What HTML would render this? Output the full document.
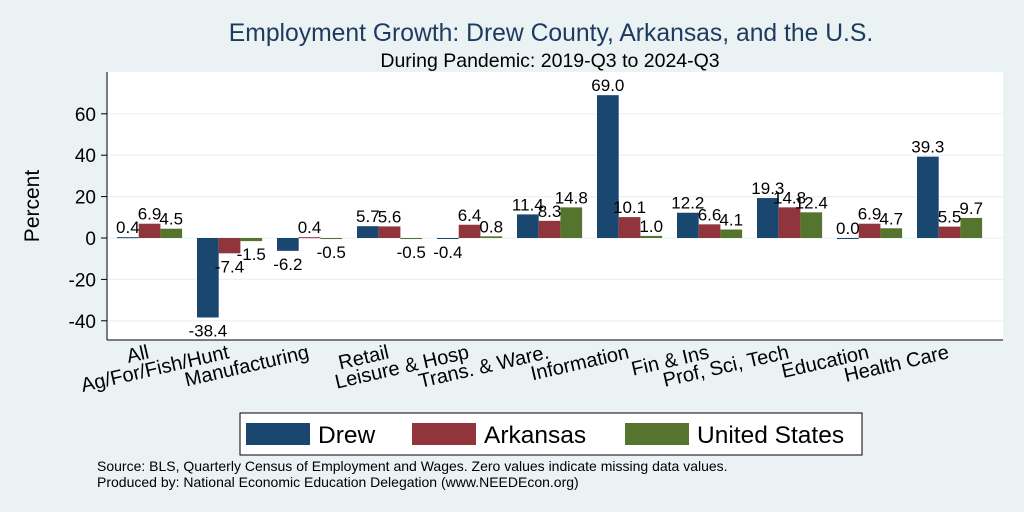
<!DOCTYPE html>
<html><head><meta charset="utf-8"><style>
body{margin:0;background:#eaf2f3;}
svg{display:block;font-family:"Liberation Sans",Arial,sans-serif;}
</style></head><body>
<svg id="c" width="1024" height="512" viewBox="0 0 1024 512">
<rect x="0" y="0" width="1024" height="512" fill="#eaf2f3"/>
<text x="551" y="41" font-size="24.7" fill="#1e3a5f" text-anchor="middle">Employment Growth: Drew County, Arkansas, and the U.S.</text>
<text x="550" y="67" font-size="19.5" fill="#000" text-anchor="middle">During Pandemic: 2019-Q3 to 2024-Q3</text>
<rect x="107" y="72" width="896" height="268" fill="#fff"/>
<g id="grid"></g><g id="bars"></g><g id="labels"></g><g id="axis"></g>
<text transform="translate(39,206) rotate(-90)" font-size="21" text-anchor="middle">Percent</text>
<g>
<rect x="240" y="413" width="622" height="42" fill="#fff" stroke="#000" stroke-width="1"/>
<rect x="246" y="423" width="64" height="22" fill="#1a476f"/>
<text x="318" y="443" font-size="24.5">Drew</text>
<rect x="412" y="423" width="64" height="22" fill="#90353b"/>
<text x="484" y="443" font-size="24.5">Arkansas</text>
<rect x="625" y="423" width="64" height="22" fill="#55752f"/>
<text x="697" y="443" font-size="24.5">United States</text>
</g>
<text x="97" y="471" font-size="14">Source: BLS, Quarterly Census of Employment and Wages. Zero values indicate missing data values.</text>
<text x="97" y="487" font-size="14">Produced by: National Economic Education Delegation (www.NEEDEcon.org)</text>
</svg>
<script>
const categories=["All","Ag/For/Fish/Hunt","Manufacturing","Retail","Leisure & Hosp","Trans. & Ware.","Information","Fin & Ins","Prof, Sci, Tech","Education","Health Care"];
const drew=[0.4,-38.4,-6.2,5.7,-0.4,11.4,69.0,12.2,19.3,0.0,39.3];
const arkansas=[6.9,-7.4,0.4,5.6,6.4,8.3,10.1,6.6,14.8,6.9,5.5];
const us=[4.5,-1.5,-0.5,-0.5,0.8,14.8,1.0,4.1,12.4,4.7,9.7];
const yTicks=[-40,-20,0,20,40,60];
const NS="http://www.w3.org/2000/svg";
function y(v){return 238-v*2.07;}
function gx(i){return 117+i*80;}
const BW=21.7;
function mk(tag,attrs,parent,txt){const e=document.createElementNS(NS,tag);for(const k in attrs)e.setAttribute(k,attrs[k]);if(txt!==undefined)e.textContent=txt;document.getElementById(parent).appendChild(e);return e;}
yTicks.forEach(t=>{
 const g=mk('line',{x1:107,x2:1003,y1:y(t),y2:y(t),stroke:'#eaf2f3','stroke-width':1.2},'grid');
 
 
 const tk=mk('line',{x1:101,x2:107,y1:y(t),y2:y(t),stroke:'#000'},'axis');
 
 
 const l=mk('text',{x:96,y:y(t)+7,'font-size':19,'text-anchor':'end'},'axis',String(t));
 
 
});
mk('line',{x1:107,x2:107,y1:72,y2:340,stroke:'#000'},'axis');
mk('line',{x1:107,x2:1003,y1:340,y2:340,stroke:'#000'},'axis');
const series=[[drew,'#1a476f','drew'],[arkansas,'#90353b','arkansas'],[us,'#55752f','us']];
categories.forEach((c,i)=>{
 series.forEach((s,j)=>{
  const v=s[0][i];const x=gx(i)+j*BW;
  const top=Math.min(y(v),y(0)),h=Math.max(Math.abs(y(v)-y(0)),1);
  const r=mk('rect',{x:x,y:top,width:BW,height:h,fill:s[1]},'bars');
  
  
  const ty=v>=0?y(v)-4:y(v)+19;
  const t=mk('text',{x:x+BW/2,y:ty,'font-size':17,'text-anchor':'middle'},'labels',v.toFixed(1));
  
  
 });
 const cx=gx(i)+33, cy=358;
 const t=mk('text',{x:cx,y:cy,'font-size':20,'text-anchor':'end',transform:'rotate(-13 '+cx+' '+cy+')'},'axis',c);
 
 
});
</script>
</body></html>
